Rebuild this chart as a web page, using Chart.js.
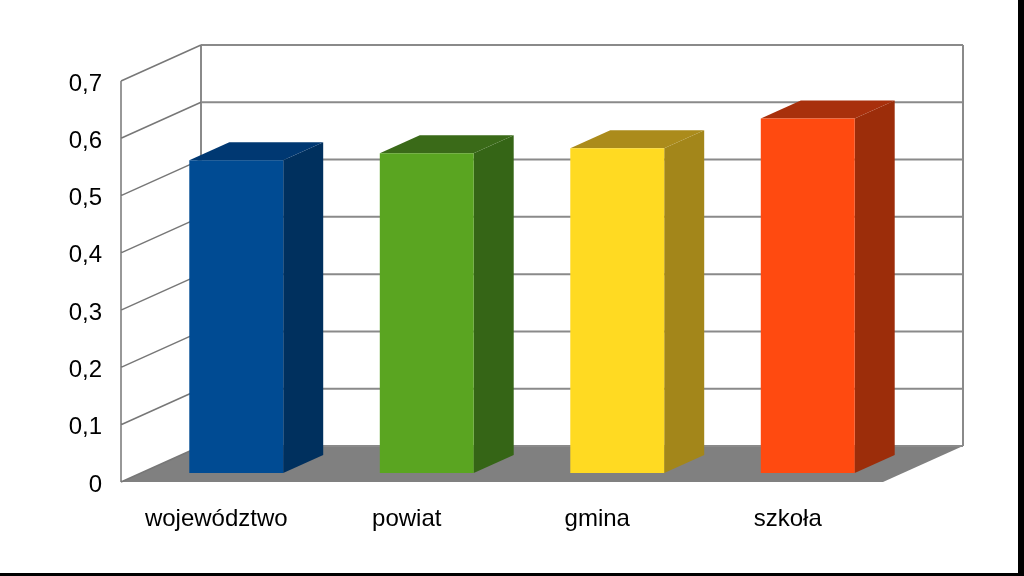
<!DOCTYPE html>
<html>
<head>
<meta charset="utf-8">
<script src="https://cdn.jsdelivr.net/npm/chart.js@4/dist/chart.umd.min.js"></script>
<style>
html, body { margin: 0; padding: 0; background: #fff; }
#wrap { width: 1024px; height: 576px; }
</style>
</head>
<body>
<div id="wrap"><canvas id="chart" width="1024" height="576"></canvas></div>
<script>
// data
const categories = ['województwo', 'powiat', 'gmina', 'szkoła'];
const values = [0.546, 0.558, 0.567, 0.619];
const yTickValues = [0, 0.1, 0.2, 0.3, 0.4, 0.5, 0.6, 0.7];

// colours of the three visible faces of each box
const frontColors = ['#004b93', '#5aa521', '#ffda22', '#ff4a10'];
const topColors = ['#003872', '#3a6a18', '#ab8b1b', '#a8300c'];
const sideColors = ['#00305e', '#356516', '#a3861a', '#9c2d0a'];

// 3D look: how far the back wall sits from the front plane
const depthX = 80, depthY = -36;
const barStart = 0.25, barDepth = 0.5; // bar sits in the middle half of the depth

const gridColor = '#8a8a8a';

const room3d = {
    id: 'room3d',
    beforeDatasetsDraw(chart) {
        const ctx = chart.ctx;
        const a = chart.chartArea;
        const y = chart.scales.y;
        ctx.save();

        // floor
        ctx.fillStyle = '#808080';
        ctx.beginPath();
        ctx.moveTo(a.left, a.bottom);
        ctx.lineTo(a.right, a.bottom);
        ctx.lineTo(a.right + depthX, a.bottom + depthY);
        ctx.lineTo(a.left + depthX, a.bottom + depthY);
        ctx.closePath();
        ctx.fill();

        // back wall grid lines
        ctx.strokeStyle = gridColor;
        ctx.lineWidth = 2;
        yTickValues.forEach(v => {
            const py = y.getPixelForValue(v) + depthY;
            ctx.beginPath();
            ctx.moveTo(a.left + depthX, py);
            ctx.lineTo(a.right + depthX, py);
            ctx.stroke();
        });
        ctx.beginPath();
        ctx.moveTo(a.left + depthX, a.top + depthY);
        ctx.lineTo(a.left + depthX, a.bottom + depthY);
        ctx.moveTo(a.right + depthX, a.top + depthY);
        ctx.lineTo(a.right + depthX, a.bottom + depthY);
        ctx.stroke();

        // left wall: front edge and slanted grid lines
        ctx.strokeStyle = '#777';
        ctx.lineWidth = 1.5;
        ctx.beginPath();
        ctx.moveTo(a.left, a.top);
        ctx.lineTo(a.left, a.bottom);
        yTickValues.forEach(v => {
            const py = y.getPixelForValue(v);
            ctx.moveTo(a.left, py);
            ctx.lineTo(a.left + depthX, py + depthY);
        });
        ctx.stroke();
        ctx.restore();
    },
    beforeDatasetDraw(chart, args) {
        const ctx = chart.ctx;
        const dx = depthX * barDepth, dy = depthY * barDepth;
        ctx.save();
        ctx.translate(depthX * barStart, depthY * barStart);
        args.meta.data.forEach((bar, i) => {
            const p = bar.getProps(['x', 'y', 'base', 'width'], true);
            const l = p.x - p.width / 2, r = p.x + p.width / 2;
            // side face
            ctx.fillStyle = sideColors[i];
            ctx.beginPath();
            ctx.moveTo(r, p.y);
            ctx.lineTo(r + dx, p.y + dy);
            ctx.lineTo(r + dx, p.base + dy);
            ctx.lineTo(r, p.base);
            ctx.closePath();
            ctx.fill();
            // top face
            ctx.fillStyle = topColors[i];
            ctx.beginPath();
            ctx.moveTo(l, p.y);
            ctx.lineTo(l + dx, p.y + dy);
            ctx.lineTo(r + dx, p.y + dy);
            ctx.lineTo(r, p.y);
            ctx.closePath();
            ctx.fill();
        });
    },
    afterDatasetDraw(chart) {
        chart.ctx.restore();
    },
    afterDraw(chart) {
        const ctx = chart.ctx;
        ctx.save();
        ctx.fillStyle = '#000';
        ctx.fillRect(1018, 0, 6, 576);
        ctx.fillRect(0, 573, 1024, 3);
        ctx.restore();
    }
};

const ctx = document.getElementById('chart').getContext('2d');

new Chart(ctx, {
    type: 'bar',
    data: {
        labels: categories,
        datasets: [{
            data: values,
            backgroundColor: frontColors,
            borderWidth: 0,
            barPercentage: 0.493,
            categoryPercentage: 1,
            clip: false
        }]
    },
    options: {
        responsive: false,
        animation: false,
        devicePixelRatio: 1,
        layout: { padding: { top: 81, right: 141, left: 0, bottom: 0 } },
        plugins: {
            legend: { display: false },
            tooltip: { enabled: false }
        },
        scales: {
            x: {
                grid: { display: false, drawTicks: false },
                border: { display: false },
                ticks: {
                    color: '#000',
                    padding: 23,
                    maxRotation: 0,
                    font: { family: '"Liberation Sans", Arial, sans-serif', size: 24 }
                },
                afterFit(scale) { scale.height = 94; }
            },
            y: {
                min: 0,
                max: 0.7,
                grid: { display: false, drawTicks: false },
                border: { display: false },
                ticks: {
                    stepSize: 0.1,
                    color: '#000',
                    padding: 19,
                    labelOffset: 3,
                    font: { family: '"Liberation Sans", Arial, sans-serif', size: 24 },
                    callback: function(value) {
                        return value === 0 ? '0' : value.toFixed(1).replace('.', ',');
                    }
                },
                afterFit(scale) { scale.width = 121; }
            }
        }
    },
    plugins: [room3d]
});
</script>
</body>
</html>
